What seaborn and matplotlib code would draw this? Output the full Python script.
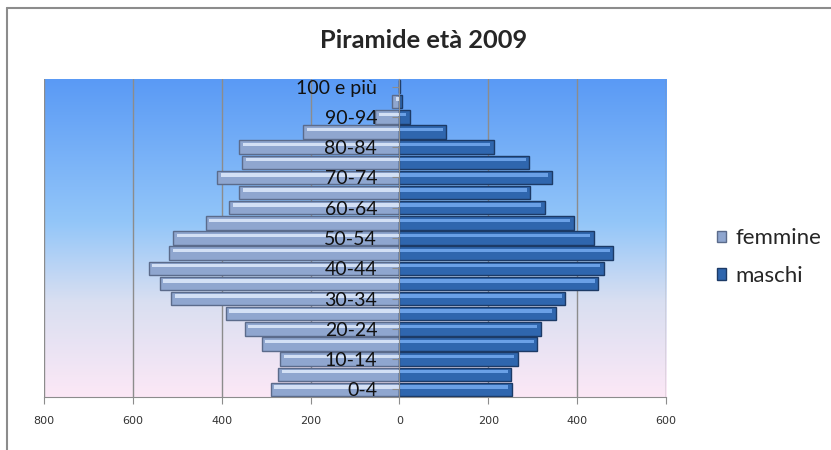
import numpy as np
import pandas as pd
import matplotlib
matplotlib.use("Agg")
import matplotlib.pyplot as plt
from matplotlib.colors import LinearSegmentedColormap
from matplotlib.patches import Patch
from matplotlib.lines import Line2D
import seaborn as sns

# dati (dall'alto verso il basso)
classi_eta = ["100 e più", "95-99", "90-94", "85-89", "80-84", "75-79", "70-74",
              "65-69", "60-64", "55-59", "50-54", "45-49", "40-44", "35-39",
              "30-34", "25-29", "20-24", "15-19", "10-14", "5-9", "0-4"]
femmine = [2, 16, 55, 217, 361, 354, 410, 361, 383, 436, 509,
           518, 564, 539, 514, 391, 348, 310, 268, 273, 290]
maschi = [1, 6, 24, 106, 212, 292, 343, 295, 327, 393, 437,
          481, 460, 448, 373, 352, 318, 310, 266, 252, 253]
tick_x = [-800, -600, -400, -200, 0, 200, 400, 600]

df = pd.DataFrame({"eta": classi_eta,
                   "femmine": [-v for v in femmine],
                   "maschi": maschi})

sns.set_style("white")
plt.rcParams["font.family"] = ["Lato", "DejaVu Sans"]

fig = plt.figure(figsize=(8.31, 4.5), dpi=100)
ax = fig.add_axes([0.0529, 0.1178, 0.7485, 0.7066])

# sfondo sfumato dell'area del grafico
sfondo = LinearSegmentedColormap.from_list(
    "sfondo", [(0, "#fce8f6"), (0.3, "#d9dff1"), (0.55, "#93c6f9"), (1, "#5a9af5")])
grad = np.linspace(0, 1, 256).reshape(-1, 1)
ax.imshow(grad, aspect="auto", cmap=sfondo, origin="lower",
          extent=[0, 1, 0, 1], transform=ax.transAxes, zorder=0)

col_f, bordo_f, luce_f = "#8fa6cf", "#5b6b8b", "#d3e0f5"
col_m, bordo_m, luce_m = "#2f66ae", "#1c3a66", "#6aa0e6"

sns.barplot(data=df, y="eta", x="femmine", orient="h", color=col_f,
            edgecolor=bordo_f, linewidth=1.0, width=0.88, saturation=1,
            ax=ax, zorder=3)
sns.barplot(data=df, y="eta", x="maschi", orient="h", color=col_m,
            edgecolor=bordo_m, linewidth=1.0, width=0.88, saturation=1,
            ax=ax, zorder=3)

# riflesso (effetto rilievo)
pos = np.arange(len(classi_eta))
f_vals = df["femmine"].to_numpy()
m_vals = df["maschi"].to_numpy()
ax.barh(pos - 0.17, np.minimum(f_vals + 8, 0), height=0.22, color=luce_f,
        linewidth=0, zorder=4)
ax.barh(pos - 0.17, np.maximum(m_vals - 8, 0), height=0.22, color=luce_m,
        linewidth=0, zorder=4)

ax.set_xlim(-800, 600)
ax.set_ylim(len(classi_eta) - 0.5, -0.5)

ax.set_xticks(tick_x)
ax.set_xticklabels([str(abs(t)) for t in tick_x], family="DejaVu Sans")
ax.tick_params(axis="x", direction="out", length=5, color="#8c8c8c", pad=9,
               bottom=True, labelsize=8, labelcolor="#333333")
for t in tick_x:
    ax.axvline(t, color="#8c8c8c", lw=1, zorder=1)

ax.set_yticks(pos[::2])
ax.set_yticklabels(classi_eta[::2])
ax.tick_params(axis="y", direction="out", length=5, color="#8c8c8c", pad=11,
               left=True, labelsize=14, labelcolor="#111111")
ax.yaxis.set_zorder(10)

ax.spines["left"].set_position(("data", 0))
ax.spines["left"].set_color("#8c8c8c")
ax.spines["left"].set_zorder(5)
ax.spines["bottom"].set_color("#8c8c8c")
ax.spines["top"].set_visible(False)
ax.spines["right"].set_visible(False)
ax.set_xlabel("")
ax.set_ylabel("")

fig.text(0.51, 0.911, "Piramide età 2009", ha="center", va="center",
         fontsize=18.3, fontweight="bold")

maniglie = [Patch(facecolor=col_f, edgecolor=bordo_f, label="femmine"),
            Patch(facecolor=col_m, edgecolor=bordo_m, label="maschi")]
fig.legend(handles=maniglie, loc="center left", bbox_to_anchor=(0.849, 0.429),
           frameon=False, fontsize=16, handlelength=0.4, handleheight=0.4,
           handletextpad=0.45, labelspacing=0.8, borderpad=0)

# cornice del grafico
fig.add_artist(Line2D([0.0084, 0.0084], [0, 0.982], color="#8c8c8c", lw=1.5,
                      transform=fig.transFigure))
fig.add_artist(Line2D([0.0084, 1.0], [0.982, 0.982], color="#8c8c8c", lw=1.5,
                      transform=fig.transFigure))

fig.savefig("out.png", dpi=100)
